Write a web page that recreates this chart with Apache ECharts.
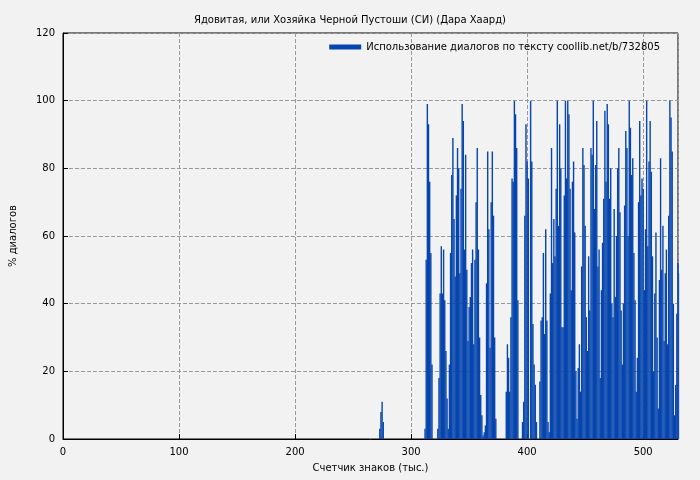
<!DOCTYPE html>
<html><head><meta charset="utf-8">
<script src="https://cdn.jsdelivr.net/npm/echarts@6/dist/echarts.min.js"></script>
<style>html,body{margin:0;background:#f2f2f2}#c{width:700px;height:480px}</style>
</head><body><div id="c"></div>
<script>
const title = "Ядовитая, или Хозяйка Черной Пустоши (СИ) (Дара Хаард)";
const seriesName = "Использование диалогов по тексту coollib.net/b/732805";
const xTicks = [0,100,200,300,400,500];
const yTicks = [0,20,40,60,80,100,120];
const seg1Start = 273, seg1 = [3,8,11,5];
const seg2Start = 312, seg2 = [3,53,99,93,76,55,22];
const seg3Start = 323, seg3 = [3,18,43,57,43,56,41,26,12,3,22,55];
const seg4Start = 335, seg4 = [78,89,65,48,72,86,80,49,74,99,94,56,84,50,29,39,42,52,56,28,53,70,86,56,30,13,7,1,2,4,46,85,62,27,70,85,66,30,6,0,0,0,0,0,0,0,0,14,28,24,14,36,77,76,100,96,86,41,0,0,0,5,11,66,93,82,77];
const seg5Start = 403, seg5 = [100,82,34,22,16,5,0,0,17,35,36,55,31,62,35,5,2,43,86,52,65,54,74,100,63,93,80,33,33,72,100,77,100,96,74,44,76,82,61,20,6,21,28,14,51,86,81,63,36,26,54,38,86,84,100,68,81,94,51,56,18,44,58,71,97,76,99,93,71];
const seg6Start = 471, seg6 = [51,80,40,36,68,42,60,80,86,67,38,22,40,69,91,86,60,100,92,78,83,55,41,14,24,70,94,72,77,74,44,62,100,57,82,94,79,54,20,43,61,30,9,47,83,50,63,29,49,56,28,66,100,95,85,40,7,16,37,52,49,53];
const segs = [[seg1Start,seg1],[seg2Start,seg2],[seg3Start,seg3],[seg4Start,seg4],[seg5Start,seg5],[seg6Start,seg6]];
const data = [];
segs.forEach(([s,arr]) => arr.forEach((v,i) => data.push([s+i, v])));
const chart = echarts.init(document.getElementById('c'));
const f = 'DejaVu Sans';
chart.setOption({
  backgroundColor:'#f2f2f2',
  animation:false,
  title:{text:title,left:'center',top:10,textStyle:{fontFamily:f,fontSize:10,fontWeight:'normal',color:'#000'}},
  legend:{data:[{name:seriesName,icon:'rect'}],right:35,top:37,itemWidth:32,itemHeight:5,textStyle:{fontFamily:f,fontSize:10,color:'#000'}},
  grid:{left:60,right:22,top:33,bottom:41,show:true,borderColor:'#000',borderWidth:1,backgroundColor:'transparent'},
  xAxis:{type:'value',min:0,max:530,interval:100,name:'Счетчик знаков (тыс.)',nameLocation:'middle',nameGap:24,
    nameTextStyle:{fontFamily:f,fontSize:10,color:'#000'},
    axisLine:{show:true,lineStyle:{color:'#000'}},axisTick:{inside:true,lineStyle:{color:'#000'}},
    axisLabel:{fontFamily:f,fontSize:10,color:'#000',showMaxLabel:false},
    splitLine:{show:true,lineStyle:{color:'#999',type:'dashed'}}},
  yAxis:{type:'value',min:0,max:120,interval:20,name:'% диалогов',nameLocation:'middle',nameGap:45,
    nameTextStyle:{fontFamily:f,fontSize:10,color:'#000'},
    axisLine:{show:true,lineStyle:{color:'#000'}},axisTick:{inside:true,lineStyle:{color:'#000'}},
    axisLabel:{fontFamily:f,fontSize:10,color:'#000'},
    splitLine:{show:true,lineStyle:{color:'#999',type:'dashed'}}},
  series:[{name:seriesName,type:'bar',data:data,barWidth:1.4,itemStyle:{color:'#0645ad'},large:false,clip:true}]
});
</script></body></html>
